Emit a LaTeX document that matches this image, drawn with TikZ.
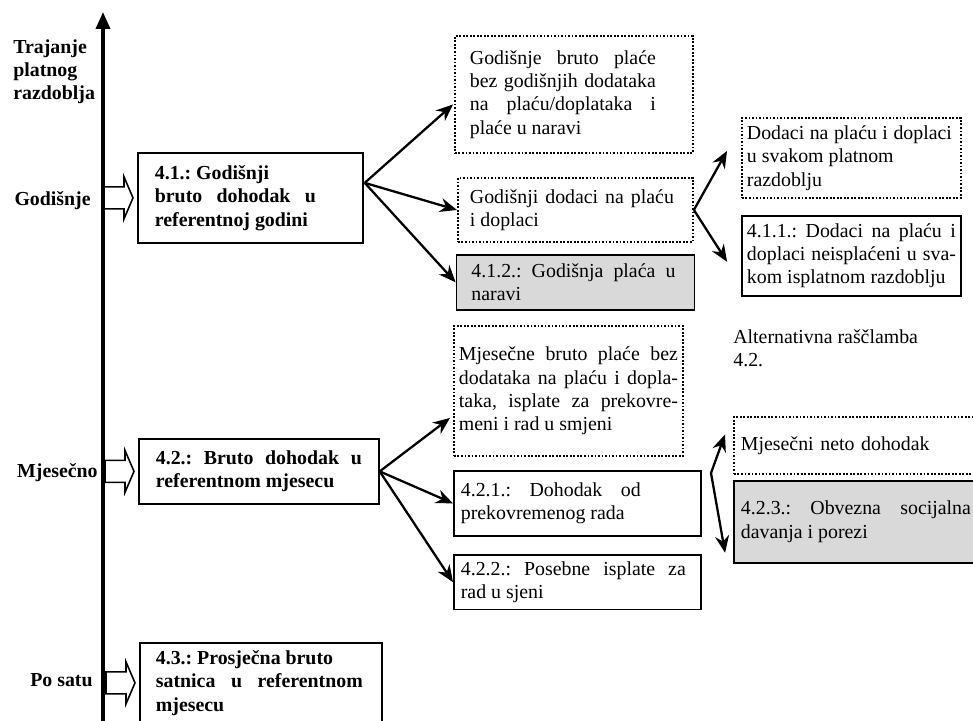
\documentclass[tikz,border=0pt]{standalone}
\usepackage{fontspec}
\setmainfont{Liberation Serif}
\usetikzlibrary{positioning, arrows.meta}
\hyphenpenalty=10000
\frenchspacing

\begin{document}
\begin{tikzpicture}[
    x=0.02cm, y=-0.02cm,
    >=Stealth,
    box/.style={rectangle, draw, line width=1pt, inner ysep=0pt,
                anchor=north west, align=justify,
                font=\fontsize{11.3}{13.3}\selectfont},
    dotbox/.style={box, densely dotted, line width=1.1pt},
    greybox/.style={box, fill=black!15},
    boldbox/.style={box, font=\bfseries\fontsize{11.3}{13.3}\selectfont},
    rpad/.style={execute at begin node={\rightskip=#1\relax}},
    lab/.style={font=\bfseries\fontsize{11.3}{13.3}\selectfont, inner sep=0pt},
    txt/.style={font=\fontsize{11.3}{13.3}\selectfont, inner sep=0pt},
    arrow/.style={-{Stealth[length=3.4mm, width=2.8mm]}, line width=1.3pt},
    hollow/.style={draw, line width=0.9pt, fill=white},
    timeline/.style={-{Triangle[length=3.4mm, width=2.8mm]}, line width=2pt}
]
  \clip (0,0) rectangle (973,720);
  \useasboundingbox (0,0) rectangle (973,720);

  % --- Time axis (left) ---
  \coordinate (axbot) at (103,725);
  \coordinate (axtop) at (103,12);
  \draw[timeline] (axbot) -- (axtop);
  \node[lab, align=left, anchor=north west] (head) at (13,39) {Trajanje\\platnog\\razdoblja};

  \node[lab, anchor=east] (lgod) at (91,201) {Godišnje};
  \node[lab, anchor=east] (lmj) at (98,473) {Mjesečno};
  \node[lab, anchor=east] (lps) at (93,680) {Po satu};

  % --- Main boxes ---
  \node[boldbox, text width=3.82cm, inner xsep=0.34cm, minimum height=1.8cm, rpad=0.6cm] (b41) at (137,152)
    {4.1.: Godišnji\\ bruto dohodak u\linebreak referentnoj godini};
  \node[boldbox, text width=4.12cm, inner xsep=0.34cm, minimum height=1.3cm] (b42) at (138,438)
    {4.2.: Bruto dohodak u\linebreak referentnom mjesecu};
  \node[boldbox, text width=4.2cm, inner xsep=0.32cm, minimum height=1.6cm, rpad=0.06cm] (b43) at (139,642)
    {4.3.: Prosječna bruto\\ satnica u referentnom\linebreak mjesecu};

  \foreach \b in {b41,b42,b43}
    \draw[hollow] (\b.west) ++(-4,0) -- ++(-9,-21) -- ++(0,10) -- ++(-20,0)
      -- ++(0,22) -- ++(20,0) -- ++(0,10) -- cycle;

  % --- Annual breakdown ---
  \node[dotbox, text width=4.16cm, inner xsep=0.3cm, minimum height=2.34cm, rpad=0.44cm] (bA) at (454,35)
    {Godišnje bruto plaće\linebreak bez godišnjih dodataka\linebreak na plaću/doplataka i\linebreak plaće u naravi};
  \node[dotbox, text width=4.22cm, inner xsep=0.24cm, minimum height=1.28cm, rpad=0.14cm] (bB) at (457,177)
    {Godišnji dodaci na plaću\linebreak i doplaci};
  \node[greybox, text width=4.16cm, inner xsep=0.3cm, minimum height=1.1cm, rpad=0.08cm, below=0.22cm of bB] (bC)
    {4.1.2.: Godišnja plaća u\linebreak naravi};
  \node[dotbox, text width=4.18cm, inner xsep=0.1cm, minimum height=1.6cm, rpad=0.08cm] (bD) at (741,117)
    {Dodaci na plaću i doplaci\linebreak u svakom platnom\\ razdoblju};
  \node[box, text width=4.18cm, inner xsep=0.1cm, minimum height=1.6cm, below=0.32cm of bD] (bE)
    {4.1.1.: Dodaci na plaću i\linebreak doplaci neisplaćeni u sva-\linebreak kom isplatnom razdoblju};

  \coordinate (f41) at ([shift={(1,-15)}]b41.east);
  \draw[arrow] (f41) -- ([shift={(-1,10)}]bA.west);
  \draw[arrow] (f41) -- (bB.west);
  \draw[arrow] (f41) -- (bC.west);
  \draw[arrow] (bB.east) -- ([shift={(-14,-7)}]bD.west);
  \draw[arrow] (bB.east) -- ([shift={(-14,6)}]bE.west);

  % --- Monthly breakdown ---
  \node[dotbox, text width=4.38cm, inner xsep=0.1cm, minimum height=2.6cm] (bF) at (453,325)
    {Mjesečne bruto plaće bez\linebreak dodataka na plaću i dopla-\linebreak taka, isplate za prekovre-\linebreak meni i rad u smjeni};
  \node[box, text width=4.66cm, inner xsep=0.14cm, minimum height=1.3cm, rpad=1.06cm] (bG) at (453,470)
    {4.2.1.: Dohodak od\linebreak prekovremenog rada};
  \node[box, text width=4.66cm, inner xsep=0.14cm, minimum height=1.1cm, rpad=0.16cm, below=0.34cm of bG] (bH)
    {4.2.2.: Posebne isplate za\linebreak rad u sjeni};

  \draw[arrow] (b42.east) -- ([shift={(-3,27)}]bF.west);
  \draw[arrow] (b42.east) -- (bG.west);
  \draw[arrow] (b42.east) -- (bH.west);

  % --- Alternative breakdown (right) ---
  \node[txt, align=left, anchor=north west] (alt) at (733,329) {Alternativna raščlamba\\4.2.};
  \node[dotbox, text width=4.92cm, inner xsep=0.14cm, minimum height=1.14cm, align=left] (bI) at (733,416)
    {Mjesečni neto dohodak};
  \node[greybox, text width=4.92cm, inner xsep=0.14cm, minimum height=1.64cm, rpad=0.32cm, below=0.1cm of bI] (bJ)
    {4.2.3.: Obvezna socijalna\linebreak davanja i porezi};

  \coordinate (fk) at (711,473);
  \draw[arrow] (fk) -- ([shift={(-8,-11)}]bI.west);
  \draw[arrow] (fk) -- ([shift={(-8,31)}]bJ.west);

\end{tikzpicture}
\end{document}
